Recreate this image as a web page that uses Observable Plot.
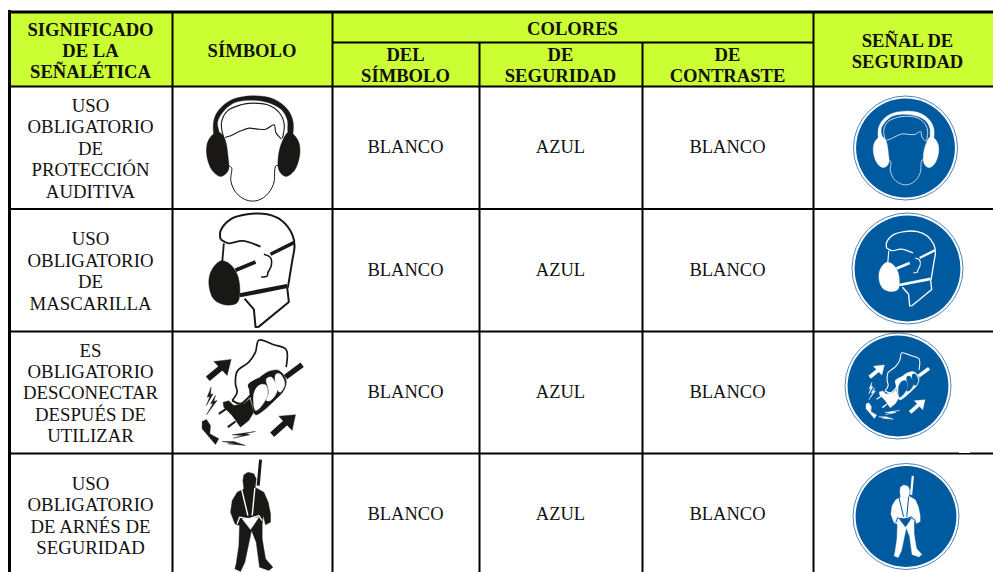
<!DOCTYPE html>
<html><head><meta charset="utf-8">
<script src="https://cdn.jsdelivr.net/npm/d3@7"></script>
<script src="https://cdn.jsdelivr.net/npm/@observablehq/plot@0.6"></script>
<style>html,body{margin:0;padding:0;background:#fff}svg{display:block}</style>
</head><body><div id="chart"></div>
<script>
const significados = ["USO\nOBLIGATORIO\nDE\nPROTECCIÓN\nAUDITIVA","USO\nOBLIGATORIO\nDE\nMASCARILLA","ES\nOBLIGATORIO\nDESCONECTAR\nDESPUÉS DE\nUTILIZAR","USO\nOBLIGATORIO\nDE ARNÉS DE\nSEGURIDAD"];
const colorSimbolo = ["BLANCO","BLANCO","BLANCO","BLANCO"];
const colorSeguridad = ["AZUL","AZUL","AZUL","AZUL"];
const colorContraste = ["BLANCO","BLANCO","BLANCO","BLANCO"];
const headers = [
  {t:"SIGNIFICADO\nDE LA\nSEÑALÉTICA",x:90,y:49.5},{t:"SÍMBOLO",x:251.5,y:50},{t:"COLORES",x:572,y:27.5},
  {t:"DEL\nSÍMBOLO",x:405,y:64},{t:"DE\nSEGURIDAD",x:560,y:64},{t:"DE\nCONTRASTE",x:727,y:64},{t:"SEÑAL DE\nSEGURIDAD",x:907,y:50}
];
const rowTextY = [147.5,270,392,514.5];
const cellTextY = [146.5,269.5,391.5,513.5];
const colX = [405,560,727];
const fullEdges = [172,332,813];
const bodyEdges = [479,642];
const rowEdges = [86,208.5,331,453];

// Pictograms, traced in 1/3-pixel units.
const icons = [
 {c:[755,443],sym:[252,148],sign:[905,147.5],r:52,k:0.7,shapes:[
  {f:1,smooth:1,pts:[[642,405],[638,365],[652,330],[690,298],[755,285],[820,295],[862,328],[877,365],[873,405],[862,395],[860,360],[845,330],[810,308],[755,298],[700,306],[665,335],[650,365],[654,400]]},
  {w:1.1,smooth:1,pts:[[668,408],[662,365],[680,330],[720,312],[755,307],[800,312],[835,335],[850,370],[845,412]]},
  {w:1.1,smooth:1,pts:[[672,410],[690,405],[720,390],[745,382],[770,385],[795,385],[820,372],[825,395],[842,415]]},
  {f:1,smooth:1,pts:[[650,393],[670,410],[682,470],[682,510],[660,527],[635,510],[618,465],[622,420]]},
  {f:1,smooth:1,pts:[[865,393],[892,420],[897,460],[880,510],[855,527],[835,510],[832,470],[845,420]]},
  {w:1,smooth:1,pts:[[682,495],[692,500],[690,540],[705,575],[735,597],[765,600],[795,585],[818,550],[825,495],[835,495]]}
 ]},
 {c:[245,193],sym:[251.7,269.8],sign:[907,268],r:55.5,k:0.66,shapes:[
  {w:2,smooth:1,pts:[[150,100],[150,75],[180,40],[230,25],[290,25],[335,45],[365,85],[372,120],[365,165],[352,245]]},
  {w:1.8,smooth:1,pts:[[150,100],[175,112],[215,105],[270,122]]},
  {w:1.8,pts:[[160,112],[155,170]]},
  {w:3.4,pts:[[300,145],[370,110]]},
  {w:3.8,pts:[[195,193],[255,168]]},
  {w:4.2,pts:[[208,268],[350,240]]},
  {w:1.6,smooth:1,pts:[[280,145],[300,155],[302,180],[292,200],[290,210],[272,213]]},
  {f:1,smooth:1,pts:[[150,165],[175,172],[200,205],[208,260],[200,290],[165,297],[130,280],[115,235],[122,195]]},
  {w:2,pts:[[222,278],[250,310],[255,363],[265,362],[355,288],[350,245]]}
 ]},
 {c:[187,172],sym:[252.3,392.3],sign:[897.5,385.5],r:53,k:0.63,shapes:[
  {w:1.7,smooth:1,pts:[[287,95],[287,42],[250,28],[205,14],[195,50],[175,80],[140,108],[135,145],[140,170],[125,195]]},
  {w:2,smooth:1,pts:[[125,195],[150,205],[170,190],[185,170],[175,150],[205,130]]},
  {w:5.5,pts:[[285,125],[335,88]]},
  {f:1,smooth:1,pts:[[178,150],[205,128],[235,108],[265,105],[287,135],[280,165],[250,197],[215,228],[195,238],[185,205]]},
  {f:1,inv:1,smooth:1,pts:[[190,175],[205,150],[225,148],[232,175],[210,215],[195,225]]},
  {f:1,inv:1,smooth:1,pts:[[228,130],[243,125],[260,165],[240,195],[228,195],[235,170]]},
  {f:1,inv:1,smooth:1,pts:[[255,118],[268,115],[283,145],[270,170],[262,165]]},
  {f:1,pts:[[98,200],[115,196],[130,210],[160,205],[178,190],[190,230],[175,255],[150,275],[125,240],[100,215]]},
  {w:2,pts:[[85,235],[110,218]]},{w:2,pts:[[112,275],[135,258]]},
  {w:6,pts:[[52,130],[92,97]]},{f:1,pts:[[70,78],[122,72],[110,120]]},
  {w:6,pts:[[245,298],[285,262]]},{f:1,pts:[[265,242],[315,238],[305,285]]},
  {f:1,pts:[[62,155],[50,185],[58,183],[48,210],[68,175],[60,177]]},
  {f:1,pts:[[75,180],[60,205],[68,203],[48,238],[80,195],[70,198]]},
  {f:1,pts:[[195,288],[125,298],[158,300],[128,308],[178,298],[165,294]]},
  {f:1,pts:[[95,318],[135,325],[112,325],[165,330],[130,318],[112,318]]},
  {f:1,pts:[[35,258],[48,252],[60,270],[58,295],[85,310],[75,327],[35,280]]}
 ]},
 {c:[107,179],sym:[250.7,514.7],sign:[905.5,516],r:53,k:0.73,shapes:[
  {w:3,pts:[[135,12],[128,90]]},
  {f:1,pts:[[82,75],[85,58],[98,50],[115,55],[122,70],[120,90],[118,95],[145,110],[158,140],[165,175],[165,200],[150,208],[143,180],[140,208],[140,250],[150,310],[172,335],[160,345],[132,335],[122,260],[108,225],[88,320],[75,348],[58,340],[62,325],[70,270],[72,210],[58,205],[45,170],[50,135],[65,110],[85,100]]},
  {w:1.4,inv:1,pts:[[78,100],[97,180]]},
  {w:1.4,inv:1,pts:[[118,97],[110,180]]},
  {w:1.3,inv:1,pts:[[65,205],[72,185],[100,190],[130,180],[140,195]]},
  {f:1,inv:1,pts:[[80,190],[130,185],[105,222]]}
 ]}
];

const INK="#1a1816", BLUE="#005a9f", GREEN="#ccff33";
const marks=[];
marks.push(Plot.rect([{a:9,b:993,c:11,d:86}],{x1:"a",x2:"b",y1:"c",y2:"d",fill:GREEN}));

function drawIcon(ic,cx,cy,k,ink,paper){
  ic.shapes.forEach(s=>{
    const color = s.inv ? paper : ink;
    const curve = s.f ? (s.smooth?"catmull-rom-closed":"linear-closed") : (s.smooth?"catmull-rom":"linear");
    marks.push(Plot.line(s.pts,{
      x:d=>cx+(d[0]-ic.c[0])/3*k, y:d=>cy+(d[1]-ic.c[1])/3*k, curve,
      stroke:color, strokeWidth:s.f?0.4:s.w*k, strokeLinecap:"butt", strokeLinejoin:"round",
      fill:s.f?color:"none"
    }));
  });
}
icons.forEach(ic=>{
  drawIcon(ic,ic.sym[0],ic.sym[1],1,INK,"#fff");
  const sg={x:ic.sign[0],y:ic.sign[1]};
  marks.push(Plot.dot([sg],{x:"x",y:"y",r:ic.r,fill:"#fff",stroke:"#4f86bb",strokeWidth:1}));
  marks.push(Plot.dot([sg],{x:"x",y:"y",r:ic.r-2.6,fill:BLUE,stroke:"none"}));
  drawIcon(ic,ic.sign[0],ic.sign[1],ic.k,"#fff",BLUE);
});

// grid
marks.push(Plot.ruleX(fullEdges,{y1:11,y2:572,stroke:"#000",strokeWidth:2}));
marks.push(Plot.ruleX(bodyEdges,{y1:42,y2:572,stroke:"#000",strokeWidth:2}));
marks.push(Plot.ruleX([9],{y1:10,y2:572,stroke:"#000",strokeWidth:3}));
marks.push(Plot.ruleY(rowEdges,{x1:8,x2:993,stroke:"#000",strokeWidth:2}));
marks.push(Plot.ruleY([11.5],{x1:8,x2:993,stroke:"#000",strokeWidth:3}));
marks.push(Plot.ruleY([42],{x1:332,x2:813,stroke:"#000",strokeWidth:2}));
marks.push(Plot.rect([{a:959,b:970,c:452,d:453}],{x1:"a",x2:"b",y1:"c",y2:"d",fill:"#fff"}));

const font={fontFamily:"'Liberation Serif','Times New Roman',serif",fill:"#111",textAnchor:"middle",lineAnchor:"middle"};
marks.push(Plot.text(headers,{...font,x:"x",y:"y",text:"t",fontWeight:"bold",fontSize:18.6,lineHeight:1.13}));
marks.push(Plot.text(significados,{...font,x:()=>90,y:(d,i)=>rowTextY[i],text:d=>d,fontSize:18.8,lineHeight:1.14}));
[colorSimbolo,colorSeguridad,colorContraste].forEach((col,j)=>{
  marks.push(Plot.text(col,{...font,x:()=>colX[j],y:(d,i)=>cellTextY[i],text:d=>d,fontSize:18.5}));
});

const chart=Plot.plot({width:993,height:572,margin:0,
  x:{domain:[0,993],range:[0,993],axis:null},
  y:{domain:[0,572],range:[0,572],axis:null},
  style:{background:"#fff"},
  marks});
document.getElementById("chart").appendChild(chart);
</script></body></html>
